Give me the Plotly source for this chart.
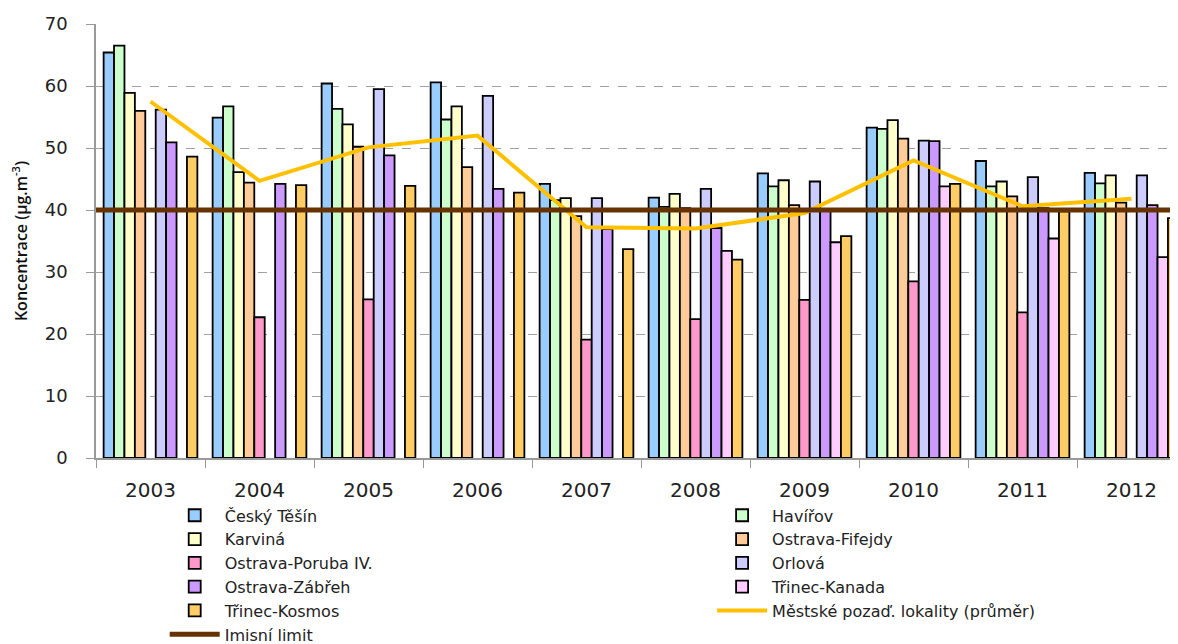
import plotly.graph_objects as go

years = ["2003", "2004", "2005", "2006", "2007", "2008", "2009", "2010", "2011", "2012"]

cesky_tesin = [65.4, 54.9, 60.4, 60.6, 44.2, 42.0, 45.9, 53.3, 47.9, 46.0]
havirov = [66.5, 56.7, 56.3, 54.6, 41.6, 40.5, 43.8, 53.1, 43.8, 44.3]
karvina = [58.9, 46.1, 53.8, 56.7, 41.9, 42.6, 44.8, 54.5, 44.6, 45.6]
ostrava_fifejdy = [56.0, 44.4, 50.2, 46.9, 39.0, 40.3, 40.8, 51.5, 42.2, 41.2]
ostrava_poruba = [None, 22.7, 25.6, None, 19.1, 22.4, 25.5, 28.5, 23.5, None]
orlova = [56.2, None, 59.5, 58.4, 41.9, 43.4, 44.6, 51.2, 45.3, 45.6]
ostrava_zabreh = [50.9, 44.2, 48.8, 43.4, 36.9, 37.1, 40.0, 51.1, 40.3, 40.8]
trinec_kanada = [None, None, None, None, None, 33.4, 34.8, 43.8, 35.4, 32.4]
trinec_kosmos = [48.6, 44.0, 43.9, 42.8, 33.7, 32.0, 35.8, 44.2, 39.8, 38.7]
mestske_prumer = [57.5, 44.7, 50.1, 52.0, 37.2, 37.0, 39.5, 48.0, 40.6, 41.8]
imisni_limit = 40

# (name, values, colour, legend column)
bar_series = [
    ("Český Těšín", cesky_tesin, "#99CCFF", "legend"),
    ("Havířov", havirov, "#CCFFCC", "legend2"),
    ("Karviná", karvina, "#FFFFCC", "legend"),
    ("Ostrava-Fifejdy", ostrava_fifejdy, "#FFCC99", "legend2"),
    ("Ostrava-Poruba IV.", ostrava_poruba, "#FF99CC", "legend"),
    ("Orlová", orlova, "#CCCCFF", "legend2"),
    ("Ostrava-Zábřeh", ostrava_zabreh, "#CC99FF", "legend"),
    ("Třinec-Kanada", trinec_kanada, "#FFCCFF", "legend2"),
    ("Třinec-Kosmos", trinec_kosmos, "#FFCC66", "legend"),
]

fig = go.Figure()
for name, vals, col, leg in bar_series:
    fig.add_trace(go.Bar(
        x=years, y=vals, name=name, legend=leg,
        marker=dict(color=col, line=dict(color="black", width=1.8)),
    ))

fig.add_trace(go.Scatter(
    x=years, y=mestske_prumer, name="Městské pozaď. lokality (průměr)",
    mode="lines", line=dict(color="#FFC000", width=4), legend="legend2",
))

fig.add_trace(go.Scatter(
    x=[0, 1], y=[imisni_limit, imisni_limit], name="Imisní limit",
    mode="lines", line=dict(color="#663300", width=5),
    xaxis="x2", legend="legend",
))

# page body has an 8 px margin, so the figure is 8 px smaller each way
W, H = 1170, 636
L, R, T, B = 88, 0, 16, 186
plot_w = W - L - R
cat_w = 109.0
x_end = -0.5 + plot_w / cat_w

leg_font = dict(family="DejaVu Sans", size=16, color="#222222")
common_leg = dict(orientation="v", yanchor="top", xanchor="left",
                  font=leg_font, itemwidth=50, tracegroupgap=0,
                  traceorder="normal", bgcolor="rgba(0,0,0,0)")

fig.update_layout(
    width=W, height=H,
    margin=dict(l=L, r=R, t=T, b=B, autoexpand=False),
    paper_bgcolor="white", plot_bgcolor="white",
    barmode="group", bargap=0.14, bargroupgap=0,
    font=dict(family="DejaVu Sans", color="#222222"),
    showlegend=True,
    legend=dict(x=0.0635, y=-0.093, **common_leg),
    legend2=dict(x=0.5694, y=-0.093, **common_leg),
    xaxis=dict(
        type="category", range=[-0.5, x_end],
        showline=True, linecolor="#999999", linewidth=1.5,
        ticks="outside", tickson="boundaries", ticklen=8, tickcolor="#999999",
        tickfont=dict(family="DejaVu Sans", size=20, color="#222222"),
        ticklabelstandoff=13,
        showgrid=False,
    ),
    xaxis2=dict(
        overlaying="x", range=[0, 1], visible=False,
    ),
    yaxis=dict(
        range=[0, 70], dtick=10,
        showline=True, linecolor="#999999", linewidth=1.5,
        ticks="outside", ticklen=8, tickcolor="#999999",
        tickfont=dict(family="DejaVu Sans", size=18, color="#222222"),
        ticklabelstandoff=15,
        showgrid=True, gridcolor="#A0A0A0", griddash="dash", gridwidth=1,
        zeroline=False,
        title=dict(text="Koncentrace (µg.m<sup>-3</sup>)",
                   font=dict(family="Open Sans", size=16, weight=600, color="#111111"),
                   standoff=13),
    ),
)

fig.write_html("out.html")
